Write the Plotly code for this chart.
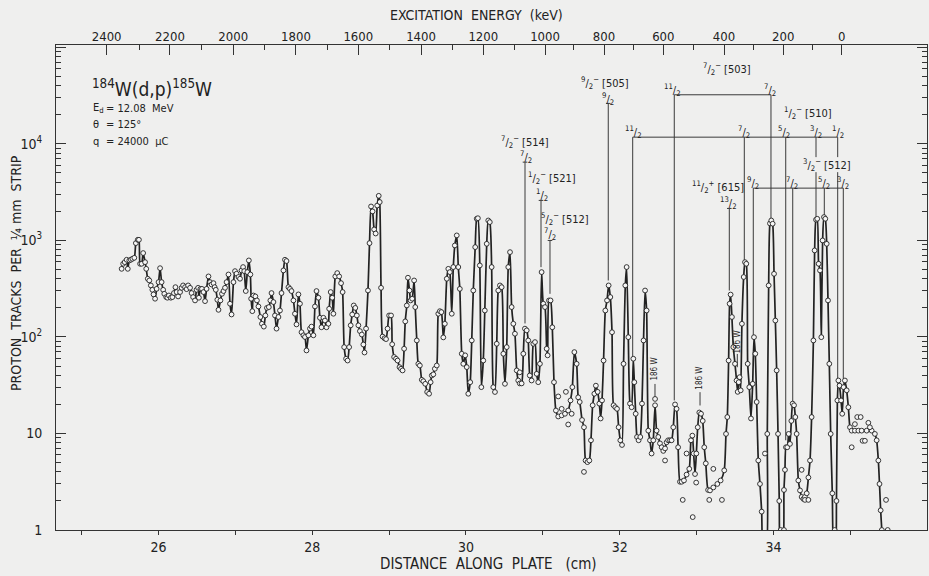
import math
import plotly.graph_objects as go

# ---------------- data ----------------
CURVE_CM = [
    25.52, 25.54, 25.56, 25.585, 25.60, 25.62, 25.64, 25.66, 25.685, 25.705, 25.73, 25.745, 25.76, 25.78, 25.80,
    25.825, 25.84, 25.86, 25.88, 25.90, 25.92, 25.935, 25.955, 25.975, 26.00, 26.02, 26.04, 26.06, 26.075, 26.10,
    26.115, 26.135, 26.16, 26.18, 26.20, 26.22, 26.235, 26.255, 26.28, 26.30, 26.32, 26.345, 26.365, 26.385, 26.41,
    26.43, 26.45, 26.475, 26.495, 26.515, 26.525, 26.545, 26.565, 26.585, 26.605, 26.625, 26.65, 26.67, 26.69, 26.715,
    26.73, 26.745, 26.765, 26.78, 26.805, 26.825, 26.845, 26.865, 26.885, 26.91, 26.93, 26.95, 26.975, 26.995, 27.015,
    27.04, 27.06, 27.08, 27.10, 27.115, 27.135, 27.155, 27.175, 27.195, 27.205, 27.22, 27.235, 27.26, 27.28, 27.30,
    27.325, 27.345, 27.37, 27.39, 27.41, 27.435, 27.455, 27.47, 27.495, 27.515, 27.535, 27.56, 27.58, 27.60, 27.625,
    27.645, 27.665, 27.69, 27.71, 27.73, 27.755, 27.775, 27.795, 27.82, 27.84, 27.86, 27.885, 27.905, 27.925, 27.95,
    27.97, 27.99, 28.015, 28.035, 28.055, 28.08, 28.10, 28.12, 28.145, 28.165, 28.185, 28.21, 28.22, 28.24, 28.26,
    28.275, 28.30, 28.325, 28.35, 28.375, 28.395, 28.415, 28.44, 28.46, 28.48, 28.50, 28.52, 28.54, 28.56, 28.58,
    28.60, 28.62, 28.645, 28.665, 28.68, 28.70, 28.725, 28.745, 28.765, 28.785, 28.805, 28.825, 28.845, 28.865, 28.878,
    28.895, 28.915, 28.94, 28.96, 28.98, 29.00, 29.025, 29.04, 29.065, 29.09, 29.11, 29.135, 29.155, 29.175, 29.195,
    29.21, 29.23, 29.245, 29.265, 29.28, 29.30, 29.325, 29.34, 29.36, 29.38, 29.40, 29.425, 29.445, 29.47, 29.495,
    29.52, 29.54, 29.555, 29.575, 29.595, 29.62, 29.64, 29.66, 29.68, 29.705, 29.725, 29.75, 29.77, 29.79, 29.815,
    29.835, 29.855, 29.88, 29.90, 29.92, 29.945, 29.965, 29.99, 30.01, 30.03, 30.055, 30.075, 30.095, 30.12, 30.14,
    30.155, 30.18, 30.20, 30.225, 30.245, 30.27, 30.29, 30.31, 30.334, 30.355, 30.377, 30.40, 30.42, 30.442, 30.464,
    30.486, 30.507, 30.53, 30.55, 30.573, 30.594, 30.616, 30.637, 30.66, 30.68, 30.70, 30.724, 30.746, 30.767, 30.79,
    30.81, 30.83, 30.854, 30.876, 30.898, 30.92, 30.94, 30.962, 30.984, 31.006, 31.028, 31.05, 31.062, 31.08, 31.10,
    31.123, 31.145, 31.17, 31.20, 31.245, 31.288, 31.33, 31.36, 31.384, 31.41, 31.44, 31.46, 31.48, 31.51, 31.535,
    31.556, 31.58, 31.605, 31.626, 31.648, 31.67, 31.69, 31.713, 31.735, 31.752, 31.77, 31.79, 31.813, 31.835, 31.856,
    31.878, 31.90, 31.92, 31.943, 31.965, 31.986, 32.008, 32.03, 32.05, 32.073, 32.09, 32.112, 32.134, 32.155, 32.177,
    32.19, 32.208, 32.225, 32.246, 32.268, 32.29, 32.31, 32.33, 32.35, 32.372, 32.394, 32.415, 32.437, 32.46, 32.48,
    32.502, 32.524, 32.546, 32.567, 32.59, 32.61, 32.63, 32.654, 32.675, 32.697, 32.72, 32.74, 32.76, 32.784, 32.806,
    32.836, 32.87, 32.905, 32.927, 32.945, 32.962, 32.98, 32.997, 33.015, 33.036, 33.058, 33.08, 33.10, 33.12, 33.15,
    33.175, 33.218, 33.27, 33.313, 33.36, 33.383, 33.40, 33.417, 33.43, 33.443, 33.46, 33.478, 33.50, 33.52, 33.535,
    33.548, 33.56, 33.574, 33.59, 33.613, 33.63, 33.647, 33.665, 33.686, 33.708, 33.73, 33.747, 33.764, 33.782, 33.803,
    33.825, 33.847, 33.87, 33.904, 33.92, 33.938, 33.955, 33.972, 33.99, 34.008, 34.025, 34.042, 34.06, 34.076, 34.094,
    34.12, 34.137, 34.15, 34.163, 34.18, 34.198, 34.215, 34.233, 34.25, 34.268, 34.285, 34.302, 34.324, 34.346, 34.367,
    34.39, 34.41, 34.433, 34.455, 34.476, 34.497, 34.52, 34.536, 34.554, 34.57, 34.588, 34.606, 34.623, 34.64, 34.658,
    34.675, 34.693, 34.71, 34.727, 34.745, 34.766, 34.788, 34.805, 34.82, 34.832, 34.845, 34.86, 34.88, 34.895, 34.913,
    34.93, 34.953, 34.975, 34.996, 35.018, 35.06, 35.105, 35.148, 35.213, 35.278, 35.32, 35.343, 35.365, 35.38, 35.395,
    35.41, 35.43,
]
CURVE_COUNTS = [
    508, 573, 596, 631, 508, 621, 631, 646, 661, 938, 1016, 1016, 573, 573, 740,
    596, 508, 401, 385, 342, 308, 276, 249, 315, 370, 516, 370, 308, 280, 259,
    255, 269, 255, 259, 285, 328, 292, 263, 292, 323, 342, 328, 313, 342, 323,
    285, 259, 239, 308, 323, 255, 315, 315, 292, 235, 315, 424, 370, 350, 361,
    328, 308, 243, 191, 239, 280, 299, 323, 370, 444, 221, 171, 370, 481, 452,
    418, 401, 489, 530, 481, 299, 470, 621, 444, 249, 185, 269, 263, 239, 207,
    161, 137, 128, 167, 200, 204, 239, 285, 230, 167, 122, 161, 188, 285, 489,
    631, 612, 328, 315, 299, 239, 174, 135, 276, 221, 112, 104, 100, 72.5, 104,
    122, 128, 104, 207, 299, 255, 158, 126, 158, 148, 126, 137, 196, 292, 255,
    174, 424, 459, 424, 361, 292, 78.5, 59.5, 57, 78.5, 132, 171, 212, 200, 167,
    132, 115, 106, 83.5, 69, 122, 303, 938, 2250, 2000, 1300, 1180, 2300, 2900, 2500,
    323, 101, 97, 95, 122, 167, 167, 84, 62, 59.5, 57, 48.7, 46.8, 45, 75.5,
    145, 212, 411, 303, 239, 249, 385, 204, 92, 52.7, 50.6, 36, 34.8, 32.7, 26.9,
    25.8, 34, 39.9, 41, 46.8, 50.6, 174, 185, 181, 99, 137, 401, 508, 470, 174,
    530, 887, 1128, 530, 315, 67, 52.7, 64.5, 48.7, 25.8, 34, 92, 303, 853, 1677,
    1700, 551, 30.2, 57, 188, 923, 1611, 1549, 530, 30.2, 26.9, 85, 303, 342, 328,
    67, 32.7, 78.5, 530, 757, 204, 137, 108, 45, 35.4, 33, 33, 67, 122, 117,
    92, 39.9, 35.4, 85, 88.5, 41.5, 34, 52.7, 470, 221, 204, 75.5, 64.5, 239, 239,
    126, 34, 17.3, 15, 15.4, 16, 17.3, 22, 30.2, 69.7, 52.7, 23.7, 21.2, 13.8, 11.6,
    5.25, 5.05, 5.25, 8.5, 19.6, 25.8, 31.3, 27, 20.4, 14.3, 22, 57, 188, 239, 342,
    259, 112, 19.6, 18.7, 18, 11.6, 8.5, 7.6, 52.7, 342, 530, 99.5, 20.4, 18.7, 59.5,
    34, 16, 9.2, 8.5, 9.2, 20.4, 92, 303, 188, 10.7, 8.5, 6.2, 8.5, 19.6, 10.7,
    9.2, 7.9, 7.2, 6.6, 7, 8.1, 8.5, 8.5, 8.5, 11.6, 20, 18, 7.2, 3.16, 3.16,
    3.26, 3.75, 4.3, 8.5, 9.5, 6.2, 3.8, 6.2, 11.6, 16.5, 16, 13.5, 7.2, 4.9, 2.6,
    2.57, 2.76, 3.0, 3.26, 4.15, 9.9, 14.8, 57, 221, 275, 161, 78.5, 52.7, 35.4, 27,
    34, 38.3, 28, 137, 418, 596, 573, 52.7, 30.2, 14.3, 32.7, 99.5, 67, 21.2, 5.25,
    3.0, 1.55, 0.6, 0.6, 9.9, 342, 1500, 1611, 1490, 451, 148, 45, 9.9, 2.0, 0.6,
    0.6, 2.6, 4.2, 7.2, 7.2, 9.9, 7.8, 13.5, 20.4, 19.6, 14.8, 9.9, 3.26, 2.57, 2.2,
    2.1, 2.2, 2.4, 3.5, 5.25, 14.8, 92, 788, 1640, 1677, 573, 489, 99.5, 1000, 1746,
    1677, 923, 239, 52.7, 9.9, 2.4, 0.6, 0.6, 2.0, 22, 35.4, 31.3, 22, 16, 30.2,
    35.4, 28, 18.7, 11.6, 10.7, 10.7, 10.7, 10.7, 10.7, 10.7, 9.9, 8.5, 5.25, 3.0, 1.6,
    1.0, 0.6,
]

# measured points lying off the drawn curve
EXTRA_CM = [30.70, 31.20, 31.245, 31.30, 31.33, 31.375, 31.535, 32.46, 32.59, 32.82, 32.87, 32.95, 32.995,
            33.165, 33.218, 33.33, 33.89, 34.095, 34.137, 34.367, 34.41, 34.455, 34.797, 35.018, 35.06,
            35.09, 35.135, 35.16, 35.19, 35.235, 35.255, 35.465, 35.487]
EXTRA_COUNTS = [43, 24.2, 18, 27, 12.4, 16, 4.0, 22.8, 5.25, 2.05, 6.2, 1.36, 3.1,
                2.05, 4.3, 2.05, 6.2, 1.0, 1.0, 4.2, 2.05, 2.05, 1.0, 7.2, 12.5,
                14.8, 14.8, 8.4, 8.4, 12.9, 11.6, 2.05, 1.0]

DIST_TICKS = [25, 26, 27, 28, 29, 30, 31, 32, 33, 34, 35]
DIST_LABELS = ["", "26", "", "28", "", "30", "", "32", "", "34", ""]

ENERGY_LABELS = ["2400", "2200", "2000", "1800", "1600", "1400", "1200", "1000", "800", "600", "400", "200", "0"]
ENERGY_POS_CM = [25.325, 26.149, 26.972, 27.788, 28.599, 29.415, 30.225, 31.028, 31.796, 32.567, 33.357, 34.128, 34.888]
ENERGY_MINOR_POS_CM = [25.746, 26.561, 27.376, 28.201, 29.002, 29.827, 30.634, 31.405, 32.177, 32.957, 33.747, 34.511]

Y_TICKS = [1, 10, 100, 1000, 10000, 100000]
Y_LABELS = ["1", "10", "10<sup>2</sup>", "10<sup>3</sup>", "10<sup>4</sup>", ""]

# level markers: vertical lines (x cm, top count, bottom count)
LEVEL_LINES = [
    (30.768, 6475, 138), (30.976, 2600, 529), (31.093, 1000, 280), (31.851, 26300, 385),
    (32.710, 32300, 22), (33.968, 32300, 1650),
    (32.169, 11750, 62), (33.621, 11750, 596), (34.160, 11750, 8.5),
    (34.554, 11750, 7300), (34.554, 5100, 1743), (34.836, 11750, 7300), (34.836, 5100, 35.4),
    (33.738, 3483, 99.5), (34.251, 3483, 21.1), (34.662, 3483, 1743), (34.909, 3483, 36.9),
    (33.426, 2146, 303),
]
# rotational bands: horizontal connectors (x from, x to, count)
BANDS = [(32.710, 33.968, 32300), (32.169, 34.836, 11750), (33.738, 34.909, 3483)]
# short bars on top of single levels (x cm, count)
TBARS = [(30.768, 6475), (30.976, 2600), (31.093, 1000), (31.851, 26300), (33.426, 2146)]

# labels: (spin numerator, parity, Nilsson tag, x cm, count)
LEVEL_LABELS = [
    ("7", "−", "[514]", 30.768, 10440), ("7", "", "", 30.78, 7300),
    ("1", "−", "[521]", 31.115, 4390), ("1", "", "", 30.985, 2930),
    ("5", "−", "[512]", 31.288, 1680), ("7", "", "", 31.093, 1170),
    ("9", "−", "[505]", 31.807, 43000), ("9", "", "", 31.851, 29300),
    ("7", "−", "[503]", 33.392, 59100), ("11", "", "", 32.689, 35800), ("7", "", "", 33.955, 35800),
    ("1", "−", "[510]", 34.454, 20850),
    ("11", "", "", 32.177, 13250), ("7", "", "", 33.621, 13250), ("5", "", "", 34.141, 13250),
    ("3", "", "", 34.55, 13250), ("1", "", "", 34.836, 13250),
    ("3", "−", "[512]", 34.693, 5990),
    ("9", "", "", 33.73, 3926), ("7", "", "", 34.245, 3926), ("5", "", "", 34.662, 3926), ("3", "", "", 34.909, 3926),
    ("11", "+", "[615]", 33.283, 3566), ("13", "", "", 33.413, 2459),
]
# 186W contaminant marks: (x cm, text centre count, line top, line bottom)
W186_MARKS = [(32.459, 47, 32.6, 23.8), (33.045, 37, 26.8, 19.5), (33.530, 88, 66.7, 48.6)]

# ---------------- figure ----------------
FONT = "DejaVu Sans Condensed, DejaVu Sans, sans-serif"
INK = "#222222"
BG = "#efefee"
L, R, T, B, W, H = 56, 2, 45, 46, 929, 576


def px_to_paper(px, py):
    return (px - L) / (W - L - R), (H - B - py) / (H - T - B)


fig = go.Figure()

# level-scheme lines
lx, ly = [], []
for x, top, bot in LEVEL_LINES:
    lx += [x, x, None]
    ly += [top, bot, None]
for x0, x1, c in BANDS:
    lx += [x0, x1, None]
    ly += [c, c, None]
for x, c in TBARS:
    lx += [x - 0.03, x + 0.03, None]
    ly += [c, c, None]
for x, _, top, bot in W186_MARKS:
    lx += [x, x, None]
    ly += [top, bot, None]
fig.add_trace(go.Scatter(x=lx, y=ly, mode="lines", line=dict(color="#3a3a3a", width=1),
                         hoverinfo="skip", showlegend=False))

fig.add_trace(go.Scatter(
    x=CURVE_CM, y=CURVE_COUNTS, mode="lines+markers",
    line=dict(color=INK, width=1.7, shape="spline", smoothing=0.6),
    marker=dict(symbol="circle", size=4.8, color="#f6f6f6", line=dict(color=INK, width=0.9)),
    showlegend=False))
fig.add_trace(go.Scatter(
    x=EXTRA_CM, y=EXTRA_COUNTS, mode="markers",
    marker=dict(symbol="circle", size=4.8, color="#f6f6f6", line=dict(color=INK, width=0.9)),
    showlegend=False))
# anchor trace for the top (energy) axis
fig.add_trace(go.Scatter(x=[30], y=[1], xaxis="x2", mode="markers", marker=dict(opacity=0),
                         hoverinfo="skip", showlegend=False))

ann = []
for num, par, tag, x, c in LEVEL_LABELS:
    text = f"<sup>{num}</sup>/<sub>2</sub>"
    if par:
        text += f"<sup>{par}</sup> {tag}"
    ann.append(dict(x=x, y=math.log10(c), xref="x", yref="y", text=text, showarrow=False,
                    font=dict(size=11, color=INK, family=FONT), yanchor="middle"))
for x, c, _, _ in W186_MARKS:
    ann.append(dict(x=x, y=math.log10(c), xref="x", yref="y", text="186 W", showarrow=False,
                    textangle=-90, font=dict(size=8, color=INK, family=FONT)))


def paper_text(px, py, text, size, xanchor="left", angle=0):
    xp, yp = px_to_paper(px, py)
    ann.append(dict(x=xp, y=yp, xref="paper", yref="paper", text=text, showarrow=False,
                    xanchor=xanchor, yanchor="middle", textangle=angle,
                    font=dict(size=size, color=INK, family=FONT)))


paper_text(90, 88, "<sup>184</sup>W(d,p)<sup>185</sup>W", 19)
paper_text(91, 108, "E<sub>d</sub>", 11)
paper_text(104, 108, "= 12.08  MeV", 11)
paper_text(91, 125, "θ", 11)
paper_text(104, 125, "= 125°", 11)
paper_text(91, 141, "q", 11)
paper_text(104, 141, "= 24000  μC", 11)
paper_text(488, 564, "DISTANCE  ALONG  PLATE   (cm)", 15, xanchor="center")
paper_text(476, 15, "EXCITATION  ENERGY  (keV)", 14, xanchor="center")
paper_text(16, 273, "PROTON  TRACKS  PER  ¼ mm  STRIP", 14, xanchor="center", angle=-90)

XRANGE = [24.666, 35.998]
fig.update_layout(
    width=W, height=H, autosize=False,
    margin=dict(l=L, r=R, t=T, b=B, autoexpand=False),
    paper_bgcolor=BG, plot_bgcolor=BG,
    font=dict(family=FONT, color=INK),
    annotations=ann,
    xaxis=dict(range=XRANGE, tickmode="array", tickvals=DIST_TICKS, ticktext=DIST_LABELS,
               ticks="outside", ticklen=4, tickcolor="#333", showline=True, linecolor="#333",
               linewidth=1, mirror=True, showgrid=False, zeroline=False, automargin=False,
               tickfont=dict(size=14, family=FONT, color=INK)),
    xaxis2=dict(range=XRANGE, overlaying="x", side="top", anchor="y", tickmode="array",
                tickvals=ENERGY_POS_CM, ticktext=ENERGY_LABELS, ticks="inside", ticklen=10,
                tickcolor="#333", showline=False, showgrid=False, zeroline=False, automargin=False,
                minor=dict(tickmode="array", tickvals=ENERGY_MINOR_POS_CM, ticks="inside",
                           ticklen=5, tickcolor="#333", showgrid=False),
                tickfont=dict(size=13, family=FONT, color=INK)),
    yaxis=dict(type="log", range=[0, 5.025], tickmode="array", tickvals=Y_TICKS, ticktext=Y_LABELS,
               ticks="inside", ticklen=10, tickcolor="#333", showline=True, linecolor="#333",
               linewidth=1, mirror="ticks", showgrid=False, zeroline=False, ticklabelstandoff=10,
               automargin=False,
               minor=dict(tickmode="array",
                          tickvals=[m * 10 ** e for e in range(5) for m in range(2, 10)],
                          ticks="inside", ticklen=5, tickcolor="#333", showgrid=False),
               tickfont=dict(size=14, family=FONT, color=INK)),
)

fig.write_html(
    "out.html",
    config={"displayModeBar": False, "staticPlot": True},
    post_script="document.body.style.margin='0';document.body.style.overflow='hidden';"
                "document.documentElement.style.background='" + BG + "';",
)
